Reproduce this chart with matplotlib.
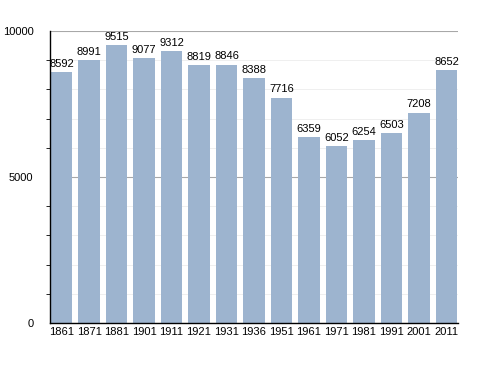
import matplotlib
matplotlib.use("Agg")
import matplotlib.pyplot as plt
from matplotlib.ticker import MultipleLocator

years = ["1861", "1871", "1881", "1901", "1911", "1921", "1931", "1936",
         "1951", "1961", "1971", "1981", "1991", "2001", "2011"]
population = [8592, 8991, 9515, 9077, 9312, 8819, 8846, 8388,
              7716, 6359, 6052, 6254, 6503, 7208, 8652]

plt.rcParams["font.family"] = ["Liberation Sans", "DejaVu Sans"]

fig = plt.figure(figsize=(4.88, 3.73), dpi=100)
ax = fig.add_axes([0.1025, 0.134, 0.836, 0.783])

x = range(len(years))
ax.bar(x, population, width=0.78, color="#9db4cf", zorder=2)
for xi, v in zip(x, population):
    ax.text(xi, v + 110, str(v), ha="center", va="bottom", fontsize=8,
            zorder=3)

ax.set_xlim(-0.42, len(years) - 0.58)
ax.set_ylim(0, 10000)
ax.set_xticks(list(x))
ax.set_xticklabels(years, fontsize=8)
ax.yaxis.set_major_locator(MultipleLocator(5000))
ax.yaxis.set_minor_locator(MultipleLocator(1000))
ax.tick_params(axis="y", which="major", labelsize=8, length=0, pad=12)
ax.tick_params(axis="y", which="minor", length=3, width=0.6)
ax.tick_params(axis="x", length=0, pad=3)

ax.grid(axis="y", which="major", color="#a8a8a8", linewidth=0.8, zorder=0)
ax.grid(axis="y", which="minor", color="#ececec", linewidth=0.6, zorder=0)
ax.set_axisbelow(True)

for side in ("top", "right"):
    ax.spines[side].set_visible(False)
ax.spines["left"].set_linewidth(1.0)
ax.spines["bottom"].set_linewidth(1.0)

fig.savefig("out.png", dpi=100)
